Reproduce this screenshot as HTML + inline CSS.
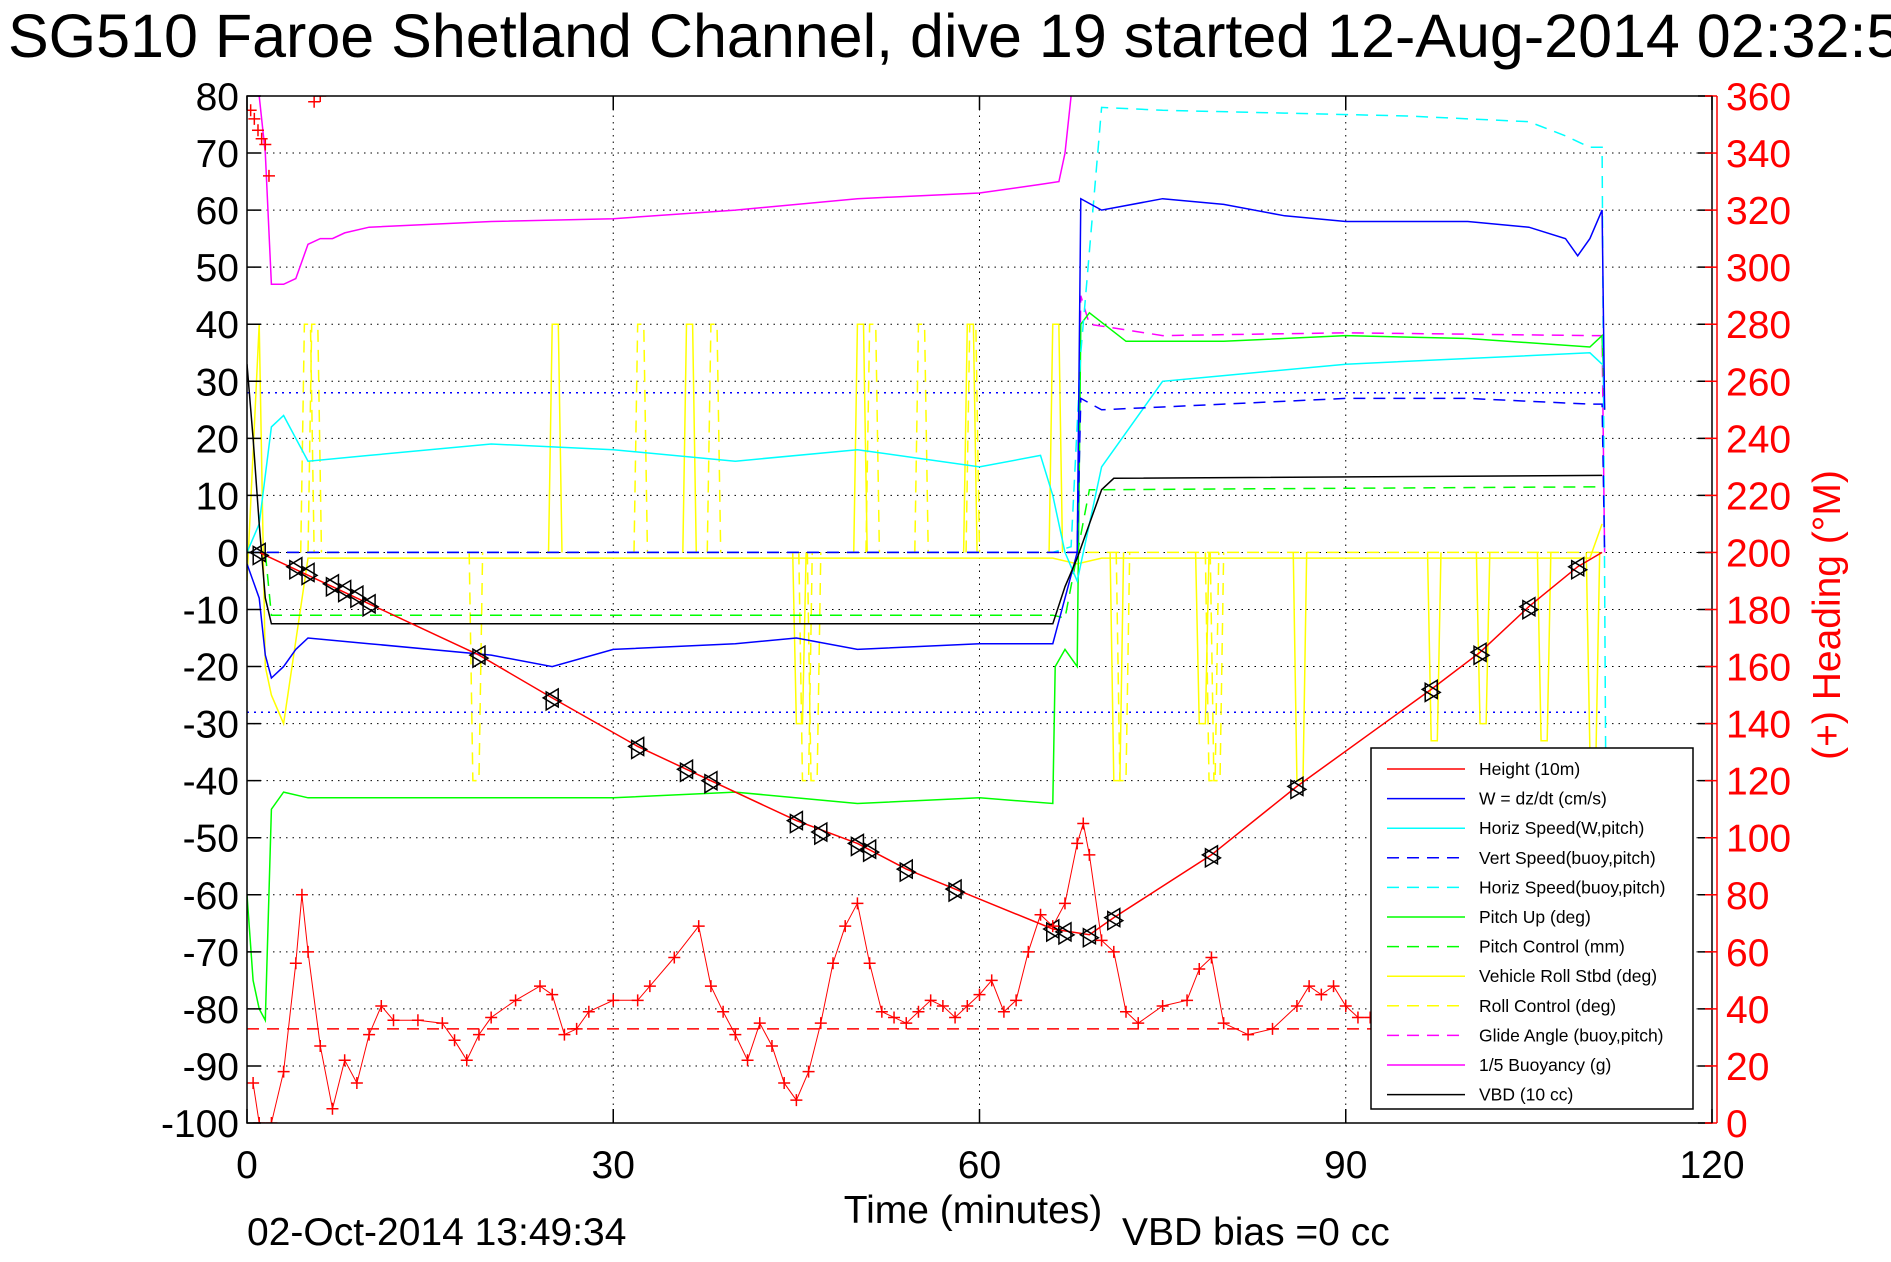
<!DOCTYPE html>
<html><head><meta charset="utf-8"><style>
body{margin:0;background:#fff;}
svg{display:block;font-family:"Liberation Sans",sans-serif;}
</style></head><body>
<svg id="chart" width="1891" height="1262" viewBox="0 0 1891 1262" xmlns="http://www.w3.org/2000/svg">
<text x="8" y="57" font-size="61">SG510 Faroe Shetland Channel, dive 19 started 12-Aug-2014 02:32:54</text>
<g id="grid"></g>
<g id="series"></g>
<g id="axes"></g>
<text x="973" y="1223" font-size="39" text-anchor="middle">Time (minutes)</text>
<text x="1122" y="1245" font-size="39">VBD bias =0 cc</text>
<text x="247" y="1245" font-size="39">02-Oct-2014 13:49:34</text>
<text transform="translate(1840,615) rotate(-90)" font-size="39" fill="#f00" text-anchor="middle">(+) Heading (°M)</text>
<g id="legend"></g>
</svg>
<script>
// ---- data arrays ----
const xTicks = [0, 30, 60, 90, 120];
const yTicks = [80,70,60,50,40,30,20,10,0,-10,-20,-30,-40,-50,-60,-70,-80,-90,-100];
const rTicks = [360,340,320,300,280,260,240,220,200,180,160,140,120,100,80,60,40,20,0];

const heightT = [1,10,19,25,32,36,45,50,54,58,66,69,71,79,86,97,101,105,109,111];
const heightV = [0,-9,-18,-25.5,-34,-38,-47,-51,-55.5,-59,-66,-67,-64,-53,-41,-24,-17.5,-9.5,-2.5,0];
const markT = [1,4,5,7,8,9,10,19,25,32,36,38,45,47,50,51,54,58,66,67,69,71,79,86,97,101,105,109];
const markV = [0,-2.5,-3.5,-5.5,-6.5,-7.5,-9,-18,-25.5,-34,-38,-40,-47,-49,-51,-52,-55.5,-59,-66,-66.5,-67,-64,-53,-41,-24,-17.5,-9.5,-2.5];

const wT = [0,1,1.5,2,3,4,5,10,20,25,30,40,45,50,60,66,67,68,68.3,70,75,80,85,90,95,100,105,108,109,110,111,111.2];
const wV = [-2,-8,-18,-22,-20,-17,-15,-16,-18,-20,-17,-16,-15,-17,-16,-16,-8,0,62,60,62,61,59,58,58,58,57,55,52,55,60,25];
const vsT = [0,66,68,68.3,70,80,90,100,110,111,111.2];
const vsV = [0,0,0,27,25,26,27,27,26,26,0];
const hsT = [0,1,2,3,5,10,20,30,40,50,60,65,66,67,68,70,75,80,90,100,110,111];
const hsV = [0,5,22,24,16,17,19,18,16,18,15,17,10,0,-5,15,30,31,33,34,35,33];
const hbT = [0,66,67.5,68.3,70,75,85,95,105,108,110,111,111.3];
const hbV = [0,0,1,35,78,77.5,77,76.5,75.5,73,71,71,-40];
const pitchT = [0,0.5,1,1.5,2,3,5,10,20,30,40,50,60,66,66.2,67,68,68.3,69,72,80,90,100,110,111,111.2];
const pitchV = [-60,-75,-80,-82,-45,-42,-43,-43,-43,-43,-42,-44,-43,-44,-20,-17,-20,40,42,37,37,38,37.5,36,38,25];
const pcT = [0,1.5,2,66,67,69,70,111];
const pcV = [0,0,-11,-11,-11.5,11,11,11.5];
const rollT = [0,1,1.5,2,3,5,10,20,30,45,60,66,68,70,80,90,100,110,111];
const rollV = [-5,40,-20,-25,-30,-1,-1,-1,-1,-1,-1,-1,-2,-1,-1,-1,-1,-1,5];
const rollSpikeT = [25,36,50,59,66,45,71,78,86,97,101,106,110];
const rollSpikeV = [40,40,40,40,40,-30,-40,-30,-40,-33,-30,-33,-35];
const rcSpikeT = [4.7,5.3,18.5,32,38,45.5,46.2,51,55,59.2,71.5,78.8,79.2];
const rcSpikeV = [40,40,-40,40,40,-40,-40,40,40,40,-40,-40,-40];
const glideT = [0,67,68,68.3,69,75,90,110,111,111.2];
const glideV = [0,0,0,45,40,38,38.5,38,38,0];
const buoyT = [1,1.5,2,3,4,5,6,7,8,10,20,30,40,50,60,65,66.5,67,68];
const buoyV = [80,70,47,47,48,54,55,55,56,57,58,58.5,60,62,63,64.5,65,70,90];
const vbdT = [0,0.5,1,1.5,2,66,67,68,69,70,71,111];
const vbdV = [33,20,5,-8,-12.5,-12.5,-6,-1,5,11,13,13.5];
const headT = [0.5,1,2,3,4,4.5,5,6,7,8,9,10,11,12,14,16,17,18,19,20,22,24,25,26,27,28,30,32,33,35,37,38,39,40,41,42,43,44,45,46,47,48,49,50,51,52,53,54,55,56,57,58,59,60,61,62,63,64,65,66,67,68,68.5,69,70,71,72,73,75,77,78,79,80,82,84,86,87,88,89,90,91,92];
const headV = [14,0,0,18,56,80,60,27,5,22,14,31,41,36,36,35,29,22,31,37,43,48,45,31,33,39,43,43,48,58,69,48,39,31,22,35,27,14,8,18,35,56,69,77,56,39,37,35,39,43,41,37,41,45,50,39,43,60,73,69,77,98,105,94,64,60,39,35,41,43,54,58,35,31,33,41,48,45,48,41,37,37];
const headTopT = [0.3,0.6,0.9,1.2,1.5,1.8,6,5.5];
const headTopV = [355,352,348,345,343,332,360,358];
const headRef = 33;
const blueRef = [-28, 28];

// ---- axes ----
const L=247,R=1712,T=96,B=1123;
const xs=t=>L+t*(R-L)/120;
const ys=v=>T+(80-v)*(B-T)/180;
const yr=h=>B-h*(B-T)/360;
const NS='http://www.w3.org/2000/svg';
function mk(tag,parent){const e=document.createElementNS(NS,tag);parent.appendChild(e);return e;}
const grid=document.getElementById('grid'),ser=document.getElementById('series'),axes=document.getElementById('axes'),leg=document.getElementById('legend');

const bg=mk('rect',grid);bg.setAttribute('x',L);bg.setAttribute('y',T);bg.setAttribute('width',R-L);bg.setAttribute('height',B-T);bg.setAttribute('fill','#fff');


yTicks.forEach(v=>{const l=mk('line',grid);l.setAttribute('x1',L);l.setAttribute('x2',R);l.setAttribute('y1',ys(v));l.setAttribute('y2',ys(v));l.setAttribute('stroke','#000');l.setAttribute('stroke-dasharray','1.5,5');

});
xTicks.forEach(t=>{const l=mk('line',grid);l.setAttribute('x1',xs(t));l.setAttribute('x2',xs(t));l.setAttribute('y1',T);l.setAttribute('y2',B);l.setAttribute('stroke','#000');l.setAttribute('stroke-dasharray','1.5,5');

});

function line(tArr,vArr,color,dash,name,w,yf){
  const p=mk('polyline',ser);
  p.setAttribute('points',tArr.map((t,i)=>xs(t).toFixed(1)+','+(yf||ys)(vArr[i]).toFixed(1)).join(' '));
  p.setAttribute('fill','none');p.setAttribute('stroke',color);p.setAttribute('stroke-width',w||1.5);
  if(dash)p.setAttribute('stroke-dasharray',dash);
  
  
  return p;
}
function spikes(tArr,vArr,color,dash,name){
  tArr.forEach((t,i)=>{const p=mk('polyline',ser);
    const a=xs(t-0.3),b=xs(t),c=xs(t+0.5),d=xs(t+0.8);
    p.setAttribute('points',a+','+ys(0)+' '+b+','+ys(vArr[i])+' '+c+','+ys(vArr[i])+' '+d+','+ys(0));
    p.setAttribute('fill','none');p.setAttribute('stroke',color);p.setAttribute('stroke-width',1.5);
    if(dash)p.setAttribute('stroke-dasharray',dash);
    
    });
}
const clip=mk('clipPath',ser);clip.setAttribute('id','pc');const cr=mk('rect',clip);cr.setAttribute('x',L);cr.setAttribute('y',T);cr.setAttribute('width',R-L);cr.setAttribute('height',B-T);
ser.setAttribute('clip-path','url(#pc)');

blueRef.forEach(v=>{const l=mk('line',ser);l.setAttribute('x1',xs(0));l.setAttribute('x2',xs(111));l.setAttribute('y1',ys(v));l.setAttribute('y2',ys(v));l.setAttribute('stroke','#00f');l.setAttribute('stroke-dasharray','2,5');l.setAttribute('stroke-width',1.5);

});
const hr=mk('line',ser);hr.setAttribute('x1',xs(0));hr.setAttribute('x2',xs(111));hr.setAttribute('y1',yr(headRef));hr.setAttribute('y2',yr(headRef));hr.setAttribute('stroke','#f00');hr.setAttribute('stroke-dasharray','12,8');hr.setAttribute('stroke-width',1.5);



line(rollT,rollV,'#ff0',null,'roll-stbd-line');
spikes(rollSpikeT,rollSpikeV,'#ff0',null,'roll-spike');
line([0,111],[0,0],'#ff0','12,8','roll-control-line');
spikes(rcSpikeT,rcSpikeV,'#ff0','12,8','roll-control-spike');
line(glideT,glideV,'#f0f','12,8','glide-angle-line');
line(buoyT,buoyV,'#f0f',null,'buoyancy-line');
line(pitchT,pitchV,'#0f0',null,'pitch-up-line');
line(pcT,pcV,'#0f0','12,8','pitch-control-line');
line(hsT,hsV,'#0ff',null,'horiz-speed-line');
line(hbT,hbV,'#0ff','12,8','horiz-speed-buoy-line');
line(vsT,vsV,'#00f','12,8','vert-speed-buoy-line');
line(wT,wV,'#00f',null,'w-dzdt-line');
line(vbdT,vbdV,'#000',null,'vbd-line');
line(heightT,heightV,'#f00',null,'height-line');
line(headT,headV,'#f00',null,'heading-trace',1,yr);

markT.forEach((t,i)=>{const x=xs(t),y=ys(markV[i]);
  const p1=mk('polygon',ser);p1.setAttribute('points',(x-9)+','+y+' '+(x+6)+','+(y-9)+' '+(x+6)+','+(y+9));
  p1.setAttribute('fill','none');p1.setAttribute('stroke','#000');p1.setAttribute('stroke-width',1.5);
  
  
  const p2=mk('polygon',ser);p2.setAttribute('points',(x+9)+','+(y+3)+' '+(x-6)+','+(y-6)+' '+(x-6)+','+(y+12));
  p2.setAttribute('fill','none');p2.setAttribute('stroke','#000');p2.setAttribute('stroke-width',1.5);
  
  });

function plus(x,y){const p=mk('path',ser);p.setAttribute('d','M'+(x-6)+' '+y+'h12M'+x+' '+(y-6)+'v12');p.setAttribute('stroke','#f00');p.setAttribute('stroke-width',1.5);
  
  }
headT.forEach((t,i)=>plus(xs(t),yr(headV[i])));
headTopT.forEach((t,i)=>plus(xs(t),yr(headTopV[i])));

// axes frame
const fr=mk('rect',axes);fr.setAttribute('x',L);fr.setAttribute('y',T);fr.setAttribute('width',R-L);fr.setAttribute('height',B-T);fr.setAttribute('fill','none');fr.setAttribute('stroke','#000');fr.setAttribute('stroke-width',1.5);


const ra=mk('line',axes);ra.setAttribute('x1',R+5);ra.setAttribute('x2',R+5);ra.setAttribute('y1',T);ra.setAttribute('y2',B);ra.setAttribute('stroke','#f00');ra.setAttribute('stroke-width',1.5);


yTicks.forEach(v=>{const tk=mk('path',axes);tk.setAttribute('d','M'+L+' '+ys(v)+'h14M'+R+' '+ys(v)+'h-14');tk.setAttribute('stroke','#000');tk.setAttribute('stroke-width',1.5);
  
  
  const tx=mk('text',axes);tx.setAttribute('x',L-8);tx.setAttribute('y',ys(v)+14);tx.setAttribute('font-size',39);tx.setAttribute('text-anchor','end');tx.textContent=v;
  
  });
rTicks.forEach(h=>{const tk=mk('path',axes);tk.setAttribute('d','M'+(R+5)+' '+yr(h)+'h-12');tk.setAttribute('stroke','#f00');tk.setAttribute('stroke-width',1.5);
  
  
  const tx=mk('text',axes);tx.setAttribute('x',R+14);tx.setAttribute('y',yr(h)+14);tx.setAttribute('font-size',39);tx.setAttribute('fill','#f00');tx.textContent=h;
  
  });
xTicks.forEach(t=>{const tk=mk('path',axes);tk.setAttribute('d','M'+xs(t)+' '+B+'v-14M'+xs(t)+' '+T+'v14');tk.setAttribute('stroke','#000');tk.setAttribute('stroke-width',1.5);
  
  
  const tx=mk('text',axes);tx.setAttribute('x',xs(t));tx.setAttribute('y',B+55);tx.setAttribute('font-size',39);tx.setAttribute('text-anchor','middle');tx.textContent=t;
  
  });

// legend
const legItems=[['Height (10m)','#f00',null],['W = dz/dt (cm/s)','#00f',null],['Horiz Speed(W,pitch)','#0ff',null],['Vert Speed(buoy,pitch)','#00f','12,8'],['Horiz Speed(buoy,pitch)','#0ff','12,8'],['Pitch Up (deg)','#0f0',null],['Pitch Control (mm)','#0f0','12,8'],['Vehicle Roll Stbd (deg)','#ff0',null],['Roll Control (deg)','#ff0','12,8'],['Glide Angle (buoy,pitch)','#f0f','12,8'],['1/5 Buoyancy (g)','#f0f',null],['VBD (10 cc)','#000',null]];
const lb=mk('rect',leg);lb.setAttribute('x',1371);lb.setAttribute('y',748);lb.setAttribute('width',322);lb.setAttribute('height',361);lb.setAttribute('fill','#fff');lb.setAttribute('stroke','#000');lb.setAttribute('stroke-width',1.5);


legItems.forEach((it,i)=>{const y=769+i*29.6;
  const g=mk('g',leg);
  
  
  const l=mk('line',g);l.setAttribute('x1',1387);l.setAttribute('x2',1465);l.setAttribute('y1',y);l.setAttribute('y2',y);l.setAttribute('stroke',it[1]);l.setAttribute('stroke-width',1.5);if(it[2])l.setAttribute('stroke-dasharray',it[2]);
  const tx=mk('text',g);tx.setAttribute('x',1479);tx.setAttribute('y',y+6);tx.setAttribute('font-size',17.5);tx.textContent=it[0];});
</script>
</body></html>
